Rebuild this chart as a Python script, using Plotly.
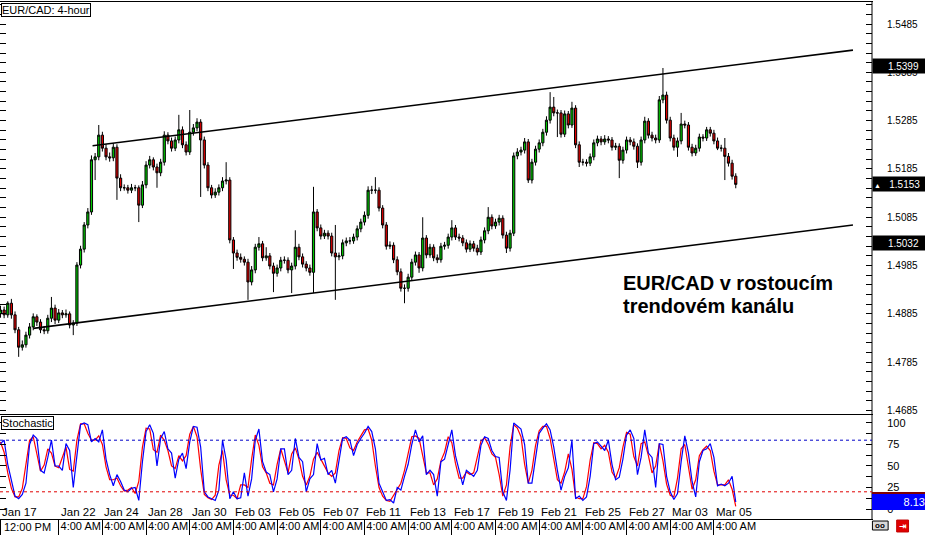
import plotly.graph_objects as go

# ---------------- data ----------------
opens = [1.4885,1.4893,1.4883,1.4907,1.4883,1.4852,1.4816,1.4821,1.4841,1.4858,
 1.4879,1.4868,1.4852,1.4850,1.4876,1.4897,1.4872,1.4887,1.4883,1.4885,
 1.4862,1.4866,1.4986,1.5019,1.5069,1.5096,1.5204,1.5210,1.5255,1.5228,
 1.5210,1.5208,1.5230,1.5166,1.5146,1.5146,1.5141,1.5146,1.5146,1.5110,
 1.5152,1.5193,1.5204,1.5189,1.5177,1.5199,1.5255,1.5243,1.5228,1.5245,
 1.5266,1.5235,1.5220,1.5261,1.5270,1.5282,1.5245,1.5193,1.5146,1.5131,
 1.5137,1.5146,1.5160,1.5162,1.5038,1.5011,1.5002,1.4998,1.4992,1.4951,
 1.4976,1.5023,1.5030,1.5001,1.5005,1.4984,1.4969,1.4980,1.4996,1.4996,
 1.4976,1.4984,1.5023,1.5003,1.4988,1.4980,1.4971,1.5096,1.5063,1.5046,
 1.5052,1.5046,1.5011,1.5003,1.5005,1.5032,1.5036,1.5036,1.5044,1.5061,
 1.5075,1.5089,1.5141,1.5141,1.5141,1.5104,1.5069,1.5025,1.5027,1.4997,
 1.4972,1.4938,1.4938,1.4961,1.4992,1.5007,1.4980,1.5042,1.5007,1.5023,
 1.5001,1.4997,1.5025,1.5027,1.5044,1.5063,1.5044,1.5042,1.5032,1.5019,
 1.5030,1.5021,1.5013,1.5038,1.5057,1.5085,1.5067,1.5075,1.5083,1.5048,
 1.5021,1.5052,1.5212,1.5220,1.5224,1.5241,1.5162,1.5199,1.5226,1.5239,
 1.5261,1.5286,1.5313,1.5301,1.5301,1.5257,1.5299,1.5276,1.5311,1.5235,
 1.5199,1.5199,1.5197,1.5210,1.5239,1.5247,1.5241,1.5247,1.5245,1.5230,
 1.5232,1.5203,1.5224,1.5245,1.5241,1.5232,1.5199,1.5245,1.5284,1.5255,
 1.5249,1.5245,1.5328,1.5338,1.5286,1.5249,1.5230,1.5243,1.5278,1.5276,
 1.5230,1.5218,1.5228,1.5251,1.5249,1.5266,1.5259,1.5243,1.5228,1.5228,
 1.5211,1.5197,1.5170]

highs = [1.4902,1.4900,1.4911,1.4916,1.4890,1.4858,1.4830,1.4848,1.4866,1.4886,
 1.4884,1.4874,1.4860,1.4883,1.4920,1.4904,1.4895,1.4893,1.4894,1.4890,
 1.4872,1.4992,1.5026,1.5075,1.5104,1.5213,1.5218,1.5276,1.5262,1.5236,
 1.5219,1.5238,1.5236,1.5174,1.5153,1.5152,1.5154,1.5152,1.5151,1.5160,
 1.5201,1.5212,1.5209,1.5196,1.5206,1.5263,1.5261,1.5250,1.5252,1.5297,
 1.5273,1.5242,1.5307,1.5278,1.5290,1.5288,1.5252,1.5199,1.5152,1.5145,
 1.5153,1.5168,1.5199,1.5168,1.5044,1.5018,1.5010,1.5004,1.4999,1.4984,
 1.5030,1.5044,1.5036,1.5023,1.5011,1.4991,1.4987,1.5003,1.5004,1.5002,
 1.4991,1.5058,1.5030,1.5010,1.4994,1.4987,1.5148,1.5102,1.5070,1.5059,
 1.5058,1.5053,1.5069,1.5012,1.5039,1.5043,1.5044,1.5051,1.5068,1.5082,
 1.5097,1.5149,1.5150,1.5168,1.5147,1.5110,1.5075,1.5035,1.5033,1.5004,
 1.4979,1.4946,1.4968,1.4999,1.5014,1.5013,1.5085,1.5048,1.5030,1.5029,
 1.5008,1.5032,1.5034,1.5051,1.5079,1.5069,1.5051,1.5048,1.5039,1.5037,
 1.5036,1.5028,1.5045,1.5064,1.5106,1.5091,1.5082,1.5090,1.5089,1.5055,
 1.5059,1.5219,1.5228,1.5231,1.5249,1.5247,1.5206,1.5233,1.5246,1.5268,
 1.5294,1.5344,1.5334,1.5308,1.5307,1.5306,1.5305,1.5324,1.5317,1.5242,
 1.5206,1.5205,1.5217,1.5246,1.5254,1.5253,1.5255,1.5253,1.5251,1.5239,
 1.5238,1.5231,1.5252,1.5251,1.5248,1.5238,1.5252,1.5293,1.5290,1.5262,
 1.5256,1.5336,1.5394,1.5345,1.5293,1.5256,1.5250,1.5301,1.5285,1.5282,
 1.5237,1.5235,1.5258,1.5257,1.5272,1.5272,1.5266,1.5250,1.5235,1.5249,
 1.5218,1.5204,1.5176]

lows = [1.4877,1.4876,1.4877,1.4875,1.4845,1.4796,1.4809,1.4815,1.4834,1.4851,
 1.4860,1.4845,1.4843,1.4844,1.4868,1.4864,1.4866,1.4876,1.4877,1.4855,
 1.4841,1.4860,1.4979,1.5012,1.5062,1.5090,1.5162,1.5203,1.5221,1.5203,
 1.5200,1.5201,1.5121,1.5139,1.5140,1.5134,1.5135,1.5139,1.5075,1.5104,
 1.5145,1.5186,1.5182,1.5146,1.5170,1.5192,1.5236,1.5221,1.5222,1.5238,
 1.5228,1.5213,1.5214,1.5254,1.5263,1.5127,1.5186,1.5139,1.5124,1.5125,
 1.5130,1.5139,1.5153,1.5031,1.4978,1.4995,1.4991,1.4985,1.4914,1.4944,
 1.4969,1.5016,1.4994,1.4995,1.4977,1.4930,1.4962,1.4973,1.4989,1.4969,
 1.4928,1.4977,1.4996,1.4981,1.4973,1.4964,1.4928,1.5056,1.5039,1.5040,
 1.5039,1.5004,1.4914,1.4996,1.4998,1.5025,1.5029,1.5030,1.5037,1.5054,
 1.5068,1.5082,1.5133,1.5134,1.5097,1.5062,1.5018,1.5019,1.4990,1.4965,
 1.4931,1.4907,1.4931,1.4954,1.4985,1.4970,1.4973,1.5000,1.5001,1.4994,
 1.4990,1.4991,1.5018,1.5020,1.5037,1.5038,1.5035,1.5025,1.5012,1.5013,
 1.5014,1.5006,1.5007,1.5031,1.5050,1.5060,1.5061,1.5068,1.5041,1.5011,
 1.5014,1.5046,1.5205,1.5213,1.5217,1.5156,1.5155,1.5192,1.5219,1.5232,
 1.5254,1.5279,1.5294,1.5251,1.5250,1.5251,1.5269,1.5270,1.5228,1.5189,
 1.5192,1.5190,1.5191,1.5203,1.5232,1.5234,1.5235,1.5238,1.5223,1.5224,
 1.5166,1.5196,1.5217,1.5234,1.5225,1.5187,1.5192,1.5238,1.5248,1.5242,
 1.5238,1.5239,1.5321,1.5279,1.5242,1.5223,1.5210,1.5236,1.5269,1.5223,
 1.5211,1.5212,1.5221,1.5242,1.5243,1.5252,1.5236,1.5224,1.5221,1.5162,
 1.5190,1.5163,1.5145]

closes = [1.4893,1.4883,1.4907,1.4883,1.4852,1.4816,1.4821,1.4841,1.4858,1.4879,
 1.4868,1.4852,1.4850,1.4876,1.4897,1.4872,1.4887,1.4883,1.4885,1.4862,
 1.4866,1.4986,1.5019,1.5069,1.5096,1.5204,1.5210,1.5255,1.5228,1.5210,
 1.5208,1.5230,1.5166,1.5146,1.5146,1.5141,1.5146,1.5146,1.5110,1.5152,
 1.5193,1.5204,1.5189,1.5177,1.5199,1.5255,1.5243,1.5228,1.5245,1.5266,
 1.5235,1.5220,1.5261,1.5270,1.5282,1.5245,1.5193,1.5146,1.5131,1.5137,
 1.5146,1.5160,1.5162,1.5038,1.5011,1.5002,1.4998,1.4992,1.4951,1.4976,
 1.5023,1.5030,1.5001,1.5005,1.4984,1.4969,1.4980,1.4996,1.4996,1.4976,
 1.4984,1.5023,1.5003,1.4988,1.4980,1.4971,1.5096,1.5063,1.5046,1.5052,
 1.5046,1.5011,1.5003,1.5005,1.5032,1.5036,1.5036,1.5044,1.5061,1.5075,
 1.5089,1.5141,1.5141,1.5141,1.5104,1.5069,1.5025,1.5027,1.4997,1.4972,
 1.4938,1.4938,1.4961,1.4992,1.5007,1.4980,1.5042,1.5007,1.5023,1.5001,
 1.4997,1.5025,1.5027,1.5044,1.5063,1.5044,1.5042,1.5032,1.5019,1.5030,
 1.5021,1.5013,1.5038,1.5057,1.5085,1.5067,1.5075,1.5083,1.5048,1.5021,
 1.5052,1.5212,1.5220,1.5224,1.5241,1.5162,1.5199,1.5226,1.5239,1.5261,
 1.5286,1.5313,1.5301,1.5301,1.5257,1.5299,1.5276,1.5311,1.5235,1.5199,
 1.5199,1.5197,1.5210,1.5239,1.5247,1.5241,1.5247,1.5245,1.5230,1.5232,
 1.5203,1.5224,1.5245,1.5241,1.5232,1.5199,1.5245,1.5284,1.5255,1.5249,
 1.5245,1.5328,1.5338,1.5286,1.5249,1.5230,1.5243,1.5278,1.5276,1.5230,
 1.5218,1.5228,1.5251,1.5249,1.5266,1.5259,1.5243,1.5228,1.5228,1.5211,
 1.5197,1.5170,1.5153]

# Stochastic main (blue) and signal (red)
stoch_main = [76,80,52,32,15,12,17,30,75,86,
 82,45,42,60,80,50,50,45,76,68,
 25,62,98,100,98,78,82,78,92,58,
 40,27,40,32,22,20,24,25,10,55,
 90,98,88,50,82,90,70,65,36,58,
 65,47,78,96,95,72,20,14,12,10,
 22,80,57,12,20,12,13,42,15,35,
 80,93,55,43,40,20,35,70,70,40,
 45,82,60,55,20,35,40,76,57,59,
 40,45,30,55,82,84,80,62,75,82,
 88,96,90,70,30,20,10,11,7,25,
 22,38,52,75,92,78,85,40,45,40,
 15,55,58,75,92,62,44,28,45,41,
 38,45,74,84,82,68,61,60,20,10,
 45,100,96,93,75,30,30,60,88,94,
 99,92,72,45,22,38,48,80,12,15,
 10,14,38,76,78,73,68,80,52,34,
 37,58,86,92,82,40,60,92,65,60,
 25,76,75,38,20,11,18,55,85,65,
 32,14,55,68,70,76,60,27,29,27,
 30,38,8.13]

stoch_signal = [78,66,42,24,14,14,24,52,80,84,
 64,44,51,70,65,50,48,60,72,46,
 44,80,99,99,88,80,80,85,75,49,
 34,34,36,27,21,22,25,18,32,72,
 94,93,69,66,86,80,68,50,47,62,
 56,62,87,96,84,46,17,13,11,16,
 51,68,34,16,16,12,28,28,25,58,
 86,74,49,42,30,28,52,70,55,42,
 64,71,58,38,28,38,58,66,58,50,
 42,38,42,68,83,82,71,68,78,85,
 92,93,80,50,25,15,10,9,16,24,
 30,45,64,84,85,82,62,42,42,28,
 35,56,66,84,77,53,36,36,43,40,
 42,60,79,83,75,64,60,40,15,28,
 72,98,94,84,52,30,45,74,91,96,
 96,82,58,34,30,43,64,46,14,12,
 12,26,57,77,76,70,74,66,43,36,
 48,72,89,87,61,50,76,78,62,42,
 50,76,56,29,16,14,36,70,75,48,
 23,34,62,69,73,68,44,28,28,28,
 34,23,3]

bar_index = list(range(len(closes)))

# channel lines (bar index, price)
upper_x = [25.3, 234.2]
upper_y = [1.5233, 1.5431]
lower_x = [9.0, 234.2]
lower_y = [1.4855, 1.5069]

price_ticks = [1.4685, 1.4785, 1.4885, 1.4985, 1.5085, 1.5185, 1.5285, 1.5385, 1.5485]
price_tick_text = ["1.4685", "1.4785", "1.4885", "1.4985", "1.5085", "1.5185", "1.5285", "1.5385", "1.5485"]
stoch_ticks = [0, 25, 50, 75, 100]
stoch_levels = [80, 20]

time_tick_idx = [0, 16, 28, 40, 52, 64, 76, 88, 100, 112, 124, 136, 148, 160, 172, 184, 196]
first_time_text = "12:00 PM"
time_tick_text = [""] + ["4:00 AM"] * 16
date_text = ["Jan 17", "Jan 22", "Jan 24", "Jan 28", "Jan 30", "Feb 03", "Feb 05", "Feb 07",
             "Feb 11", "Feb 13", "Feb 17", "Feb 19", "Feb 21", "Feb 25", "Feb 27", "Mar 03", "Mar 05"]

line_labels = [1.5399, 1.5032]
last_price = 1.5153
last_stoch = 8.13

# ---------------- figure ----------------
FONT = "Arial, Liberation Sans, sans-serif"
NB = "\u00a0"
fig = go.Figure()

fig.add_trace(go.Candlestick(
    x=bar_index, open=opens, high=highs, low=lows, close=closes,
    xaxis="x", yaxis="y",
    increasing=dict(line=dict(color="black", width=1), fillcolor="#00c800"),
    decreasing=dict(line=dict(color="black", width=1), fillcolor="#e00000"),
    whiskerwidth=0, showlegend=False, hoverinfo="skip"))

for lx, ly in [(upper_x, upper_y), (lower_x, lower_y)]:
    fig.add_trace(go.Scatter(x=lx, y=ly, mode="lines", xaxis="x", yaxis="y",
                             line=dict(color="black", width=1.6),
                             showlegend=False, hoverinfo="skip"))

fig.add_trace(go.Scatter(x=bar_index, y=stoch_signal, mode="lines", xaxis="x2", yaxis="y2",
                         line=dict(color="#ff0000", width=1.2), showlegend=False, hoverinfo="skip"))
fig.add_trace(go.Scatter(x=bar_index, y=stoch_main, mode="lines", xaxis="x2", yaxis="y2",
                         line=dict(color="#0000ff", width=1.2), showlegend=False, hoverinfo="skip"))

XR = [-0.13, 239.43]
MAIN_DOM = [0.2031, 1.0]
STO_DOM = [0.0, 0.2012]

fig.update_layout(
    width=925, height=535,
    margin=dict(l=0, r=53, t=2, b=16, autoexpand=False),
    paper_bgcolor="white", plot_bgcolor="white",
    font=dict(family=FONT, size=11, color="black"),
    showlegend=False,
    boxgap=0.15,
    xaxis=dict(domain=[0, 1], anchor="y", range=XR, showgrid=False, zeroline=False,
               showticklabels=False, ticks="", showline=True, linecolor="black",
               linewidth=1, mirror=True, automargin=False, rangeslider=dict(visible=False)),
    yaxis=dict(domain=MAIN_DOM, anchor="x", side="right", range=[1.46777, 1.55306],
               tickvals=price_ticks, ticktext=price_tick_text, ticks="inside", ticklen=6,
               tickcolor="black", showgrid=False, zeroline=False, automargin=False,
               showline=True, linecolor="rgba(0,0,0,0)", mirror="ticks",
               ticklabelstandoff=12,
               tickfont=dict(family=FONT, size=10, color="black"),
               minor=dict(ticks="inside", ticklen=6, dtick=0.002, tick0=1.4685,
                          tickcolor="black", showgrid=False)),
    xaxis2=dict(domain=[0, 1], anchor="y2", range=XR, matches="x", showgrid=False,
                zeroline=False, tickvals=time_tick_idx, ticktext=time_tick_text,
                ticks="outside", ticklen=16, tickcolor="black", tickangle=0,
                ticklabelshift=22, ticklabelstandoff=-19, automargin=False,
                ticklabeloverflow="allow",
                tickfont=dict(family=FONT, size=11, color="black"),
                showline=True, linecolor="black", linewidth=1, mirror=True),
    yaxis2=dict(domain=STO_DOM, anchor="x2", side="right", range=[-11.6, 109.3],
                tickvals=stoch_ticks, ticks="inside", ticklen=6, tickcolor="black",
                showgrid=False, zeroline=False, showline=True, automargin=False,
                linecolor="rgba(0,0,0,0)", mirror="ticks", ticklabelstandoff=12,
                tickfont=dict(family=FONT, size=11, color="black"),
                minor=dict(ticks="inside", ticklen=6, dtick=12.5, tick0=0,
                           tickcolor="black", showgrid=False)),
)

# first time label (placed right of its separator like the others)
fig.add_annotation(x=time_tick_idx[0], y=-0.0155, xref="x2", yref="paper", text=first_time_text,
                   showarrow=False, xanchor="left", yanchor="middle", xshift=2,
                   font=dict(family=FONT, size=11, color="black"))

# right border line
fig.add_shape(type="line", xref="paper", yref="paper", x0=1, x1=1, y0=0, y1=1,
              line=dict(color="black", width=1))

# stochastic levels
for lv, col in zip(stoch_levels, ["#0000c8", "#e00000"]):
    fig.add_shape(type="line", xref="x2 domain", yref="y2", x0=0, x1=1, y0=lv, y1=lv,
                  line=dict(color=col, width=1, dash="dot"))

# date labels inside the stochastic panel
for ti, tx in zip(time_tick_idx, date_text):
    fig.add_annotation(x=ti, y=0.0135, xref="x2", yref="paper", text=tx, showarrow=False,
                       xanchor="left", yanchor="middle", xshift=0,
                       font=dict(family=FONT, size=11.5, color="black"))

# price labels on right axis
for lv in line_labels:
    fig.add_annotation(x=1, y=lv, xref="paper", yref="y",
                       text=NB * 5 + f"{lv:.4f}", showarrow=False,
                       xanchor="left", yanchor="middle", align="left", width=51, height=12,
                       bgcolor="black", font=dict(family=FONT, size=10, color="white"))
fig.add_annotation(x=1, y=last_price, xref="paper", yref="y",
                   text="<span style='font-size:7px'>\u25b2</span>" + NB * 3 + f"{last_price:.4f}",
                   showarrow=False, xanchor="left", yanchor="middle", align="left",
                   width=51, height=12, bgcolor="black",
                   font=dict(family=FONT, size=10, color="white"))
fig.add_annotation(x=1, y=last_stoch, xref="paper", yref="y2", text=f"{last_stoch:.2f}",
                   showarrow=False, xanchor="left", yanchor="middle", align="right",
                   width=51, height=12, bgcolor="#0000ff", bordercolor="#0000ff",
                   font=dict(family=FONT, size=11, color="white"))
# dark top edge of the stochastic value box
fig.add_shape(type="line", xref="paper", yref="paper", x0=1, x1=1.061, y0=0.0505, y1=0.0505,
              line=dict(color="#800000", width=2))

# bottom-right icons
fig.add_shape(type="rect", xref="paper", yref="paper", x0=1.0005, x1=1.0185, y0=-0.0213, y1=-0.0039,
              line=dict(color="black", width=1), fillcolor="#d8d8d8")
fig.add_annotation(x=1.0095, y=-0.0126, xref="paper", yref="paper", text="<b>oo</b>", showarrow=False,
                   xanchor="center", yanchor="middle", font=dict(family=FONT, size=8, color="black"))
fig.add_shape(type="rect", xref="paper", yref="paper", x0=1.0283, x1=1.0419, y0=-0.0251, y1=-0.0020,
              line=dict(color="#c00000", width=1), fillcolor="#e00000")
fig.add_annotation(x=1.0351, y=-0.0135, xref="paper", yref="paper", text="<b>\u21e5</b>", showarrow=False,
                   xanchor="center", yanchor="middle", font=dict(family="DejaVu Sans", size=9, color="white"))

# panel captions
fig.add_annotation(x=0.001, y=0.999, xref="paper", yref="paper", text="EUR/CAD: 4-hour",
                   showarrow=False, xanchor="left", yanchor="top", bgcolor="white",
                   bordercolor="black", borderwidth=1, borderpad=0,
                   font=dict(family=FONT, size=11, color="black"))
fig.add_annotation(x=0.001, y=0.1992, xref="paper", yref="paper", text="Stochastic",
                   showarrow=False, xanchor="left", yanchor="top", bgcolor="white",
                   bordercolor="black", borderwidth=1, borderpad=0,
                   font=dict(family=FONT, size=11, color="black"))

# chart comment
fig.add_annotation(x=0.712, y=0.4565, xref="paper", yref="paper", text="<b>EUR/CAD v rostoucím</b>",
                   showarrow=False, xanchor="left", yanchor="middle",
                   font=dict(family=FONT, size=20, color="black"))
fig.add_annotation(x=0.712, y=0.4120, xref="paper", yref="paper", text="<b>trendovém kanálu</b>",
                   showarrow=False, xanchor="left", yanchor="middle",
                   font=dict(family=FONT, size=20, color="black"))

fig.write_html("out.html", config={"displayModeBar": False},
               post_script="document.body.style.margin='0';document.body.style.overflow='hidden';")
